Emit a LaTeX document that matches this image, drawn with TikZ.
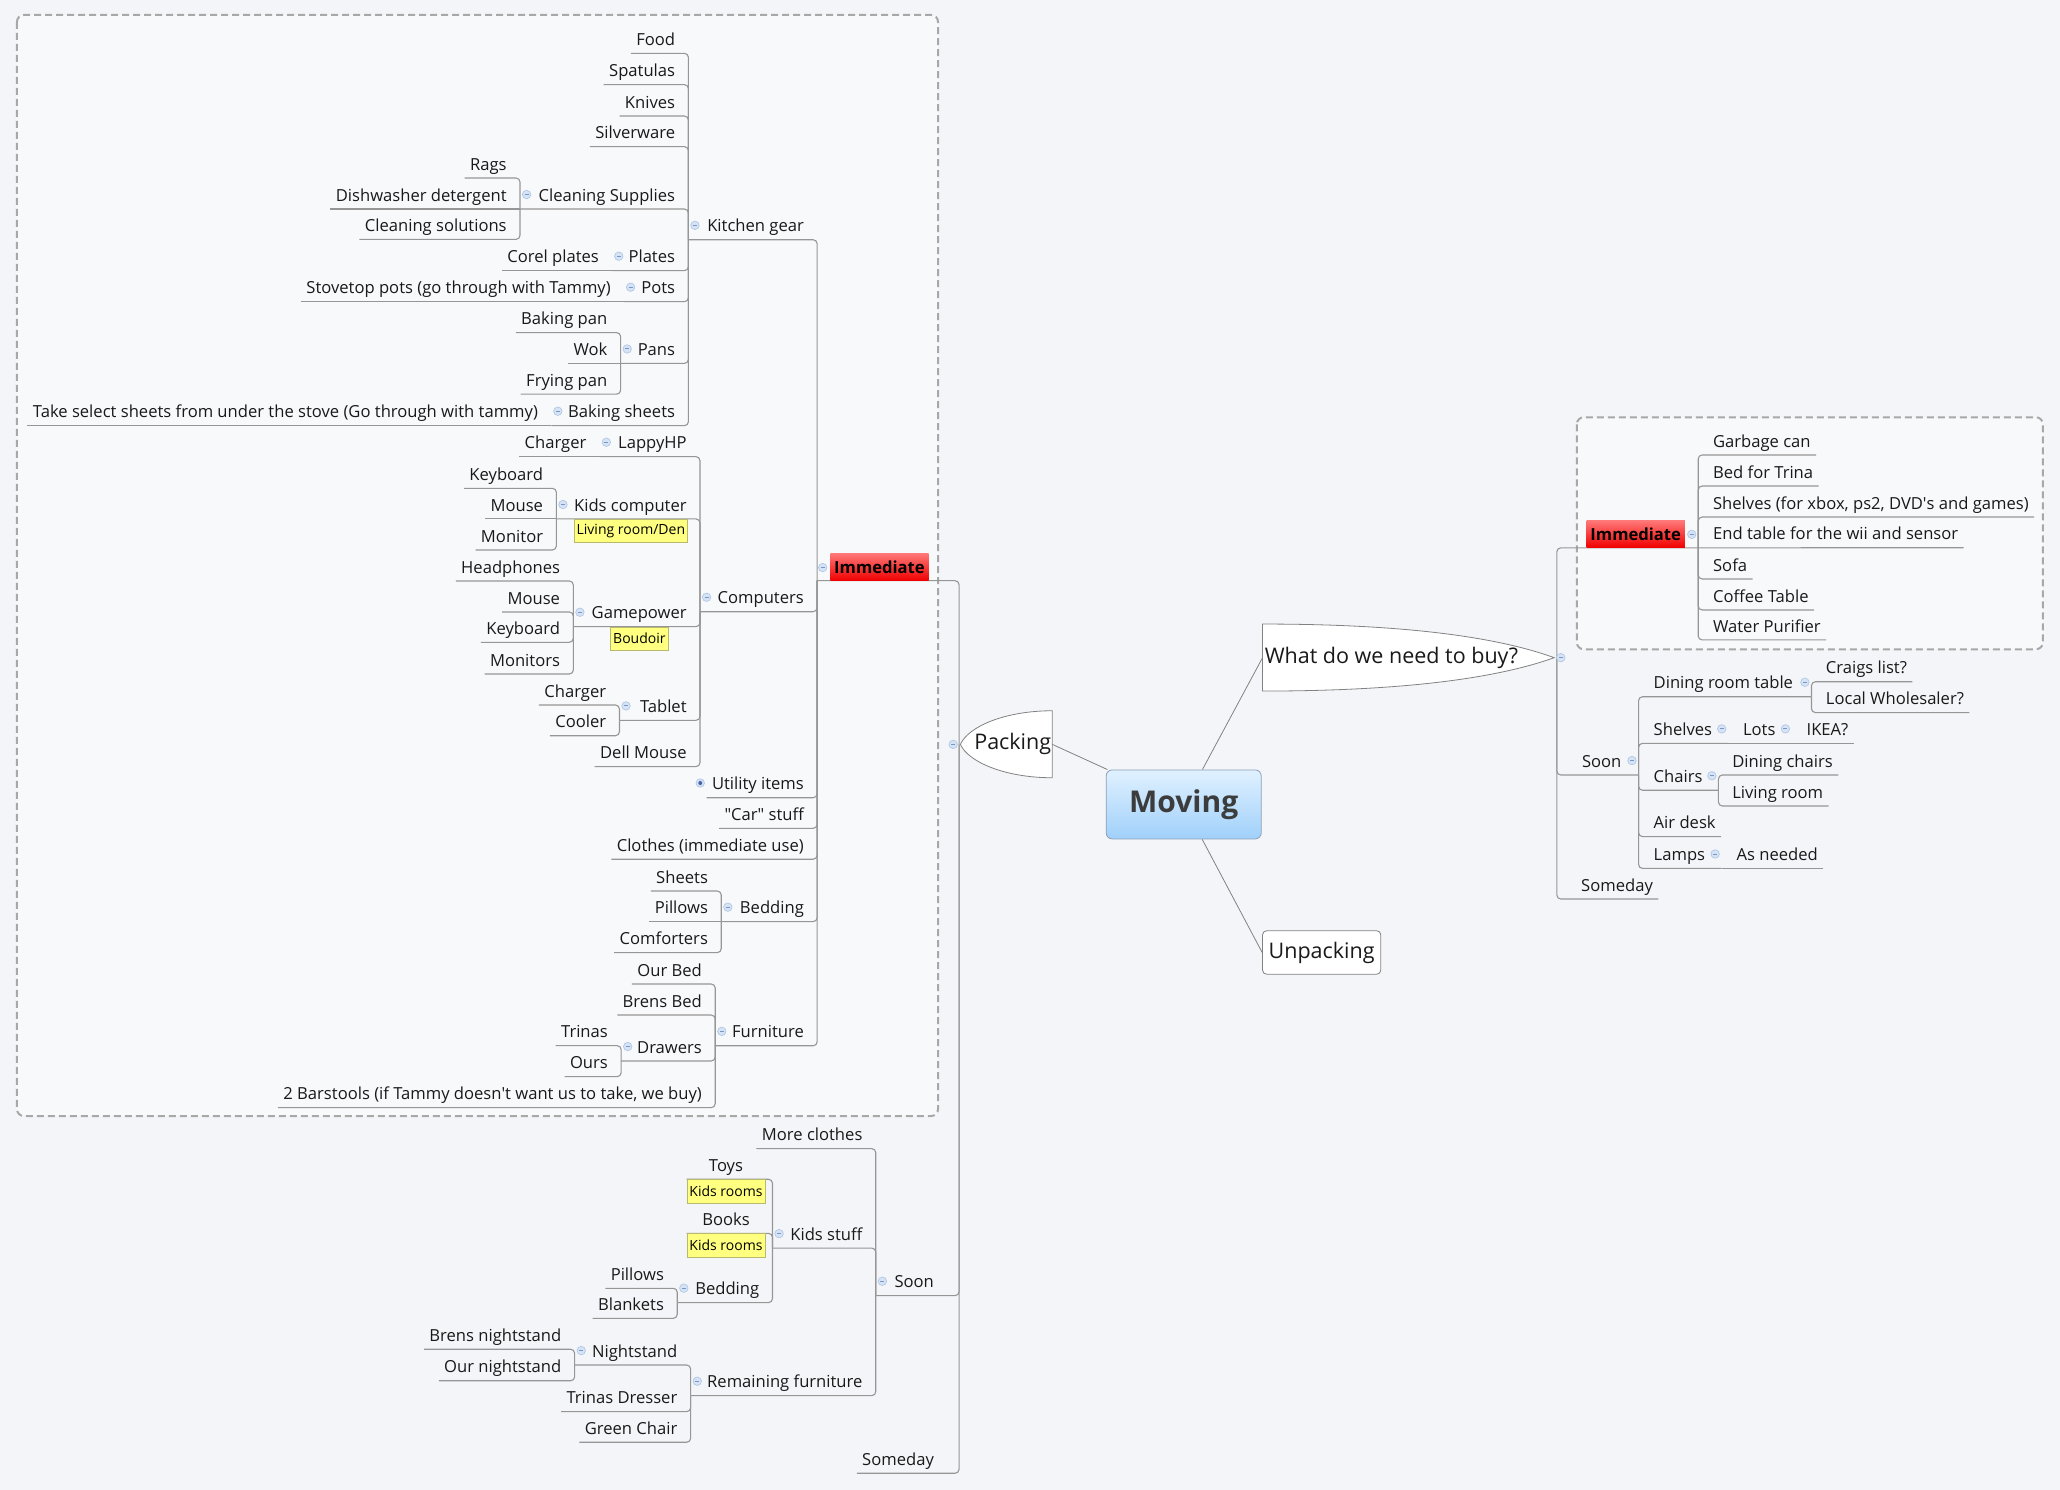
\documentclass[tikz,border=0pt]{standalone}
\usepackage{fontspec}
\setmainfont{Open Sans}
\usetikzlibrary{calc}
\definecolor{bgC}{RGB}{243,245,248}
\definecolor{boxC}{RGB}{248,249,251}
\definecolor{dashC}{RGB}{168,168,168}
\definecolor{lineC}{RGB}{150,150,150}
\definecolor{line2C}{RGB}{130,130,130}
\definecolor{mkF}{RGB}{214,227,244}
\definecolor{mkD}{RGB}{172,196,228}
\definecolor{mkM}{RGB}{120,150,200}
\definecolor{mkP}{RGB}{70,100,165}
\definecolor{lblF}{RGB}{255,255,128}
\definecolor{lblD}{RGB}{185,185,110}
\definecolor{txtC}{RGB}{25,25,25}
\definecolor{movT}{RGB}{224,241,255}
\definecolor{movB}{RGB}{160,208,250}
\definecolor{movD}{RGB}{140,160,185}
\definecolor{movTxt}{RGB}{60,60,60}
\definecolor{redT}{RGB}{255,120,120}
\definecolor{redB}{RGB}{240,0,0}
\newcommand\fs{\fontsize{16.6}{20}\selectfont}
\newcommand\fl{\fontsize{14}{17}\selectfont}
\newcommand\fb{\fontsize{21.5}{26}\selectfont}
\newcommand\fm{\fontsize{30}{36}\selectfont\bfseries}
\newcommand\dq{\XeTeXglyph\XeTeXcharglyph"22\relax}
\newcommand\sq{\XeTeXglyph\XeTeXcharglyph"27\relax}
\newcommand\Lnode[4]{\node[topic,anchor=base east] (#1) at (#2,{#3-6}) {#4};
  \path (#1.base west) ++(-4,6) coordinate (#1A);}
\newcommand\Lpar[5]{\node[topic,anchor=base east] (#1) at (#2,{#3-6}) {#4};
  \coordinate (#1A) at (#5,#3); \node[mk] at ({#5+5},{#3-11}) {};}
\newcommand\Rnode[4]{\node[topic,anchor=base west] (#1) at (#2,{#3-6}) {#4};
  \path (#1.base east) ++(4,6) coordinate (#1A);}
\newcommand\Rpar[5]{\node[topic,anchor=base west] (#1) at (#2,{#3-6}) {#4};
  \coordinate (#1A) at (#5,#3); \node[mk] at ({#5-5},{#3-11}) {};}
\newcommand\link[2]{\draw[conn] (#1A) -- (#1A -| #2A) -- (#2A);}
\newcommand\linkS[2]{\draw[conn] (#1A) -- (#2A);}
\begin{document}
\begin{tikzpicture}[x=1.3138pt,y=-1.3138pt,
  topic/.style={inner sep=0pt,font=\fs,text=txtC},
  conn/.style={draw=lineC,line width=1.1pt,rounded corners=4pt},
  conn2/.style={draw=line2C,line width=0.8pt},
  mk/.style={circle,draw=mkD,fill=mkF,minimum size=8.5pt,inner sep=0pt,line width=0.6pt,
    path picture={\draw[mkM,line width=0.9pt] ([xshift=-2pt]path picture bounding box.center) -- ([xshift=2pt]path picture bounding box.center);}},
  mkplus/.style={circle,draw=mkD,fill=mkF,minimum size=8.5pt,inner sep=0pt,line width=0.6pt,
    path picture={\fill[mkP] (path picture bounding box.center) circle (2pt);}},
  lbl/.style={draw=lblD,fill=lblF,font=\fl,inner xsep=2.5pt,inner ysep=0pt,minimum height=23.4pt,line width=0.5pt},
  immbox/.style={top color=redT,bottom color=redB,draw=none,font=\fs\bfseries,inner sep=0pt,minimum width=98.3pt,minimum height=27pt},
  dashbox/.style={draw=dashC,fill=boxC,dash pattern=on 7pt off 4pt,line width=2pt,rounded corners=7pt},
  shapeC/.style={draw=line2C,fill=white,line width=0.8pt}]
\fill[bgC] (0,0) rectangle (1568,1134);
\useasboundingbox (0,0) rectangle (1568,1134);
% group boxes
\draw[dashbox] (12.9,11.4) rectangle (714,849.5);
\draw[dashbox] (1200.2,317.6) rectangle (1555,494.2);
% central topics
\filldraw[shapeC] (801,541) .. controls (765,541) and (737,553) .. (731,566.6) .. controls (737,580) and (765,592) .. (801,592) -- cycle;
\node[inner xsep=1pt,inner ysep=0pt,anchor=east,font=\fb,text=txtC] (packing) at (801,566.6) {Packing};
\coordinate (packingA) at (730,566.6);
\filldraw[shapeC] (961,475) .. controls (1070,475) and (1140,485) .. (1183,500.6) .. controls (1140,516) and (1070,526) .. (961,526) -- cycle;
\node[inner xsep=2pt,inner ysep=0pt,anchor=west,font=\fb,text=txtC] (what) at (961,500.6) {What do we need to buy?};
\coordinate (whatA) at (1185,500.6);
\node[draw=movD,top color=movT,bottom color=movB,rounded corners=6pt,minimum width=155pt,minimum height=69pt,font=\fm,text=movTxt,line width=0.8pt] (moving) at (901,612.3) {Moving};
\node[draw=line2C,fill=white,rounded corners=4pt,minimum width=118.2pt,minimum height=43.4pt,font=\fb,text=txtC,line width=0.8pt] (unpack) at (1006,725) {Unpacking};
\draw[conn2] (packing.east) -- (moving);
\draw[conn2] (what.west) -- (moving);
\draw[conn2] (unpack.west) -- (moving);
% ---------------- left tree ----------------
\coordinate (imm1A) at (622,442);
\Lpar{soon1}{711}{986.2}{Soon}{666.6}
\Lnode{someday1}{711}{1121.4}{Someday}
\Lpar{kg}{612}{182.5}{Kitchen gear}{524}
\Lpar{comp}{612}{465.6}{Computers}{532.8}
\Lnode{util}{612}{607.2}{Utility items}
\node[mkplus] at (533,596) {};
\Lnode{car}{612}{630.5}{\dq Car\dq{} stuff}
\Lnode{clothes}{612}{654}{Clothes (immediate use)}
\Lpar{bedA}{612}{701.5}{Bedding}{549}
\Lpar{furn}{612}{796}{Furniture}{544.4}
\Lnode{food}{514}{40.6}{Food}
\Lnode{spat}{514}{64.4}{Spatulas}
\Lnode{knives}{514}{88.3}{Knives}
\Lnode{silver}{514}{111.6}{Silverware}
\Lpar{cs}{514}{159.1}{Cleaning Supplies}{395.8}
\Lpar{plates}{514}{206}{Plates}{466}
\Lpar{pots}{514}{229.6}{Pots}{475}
\Lpar{pans}{514}{276.6}{Pans}{472.4}
\Lpar{bsheets}{514}{324}{Baking sheets}{419.6}
\Lnode{rags}{385.8}{135.5}{Rags}
\Lnode{dish}{385.8}{159.1}{Dishwasher detergent}
\Lnode{csol}{385.8}{182.2}{Cleaning solutions}
\Lnode{corel}{456}{206}{Corel plates}
\Lnode{stove}{465}{229.6}{Stovetop pots (go through with Tammy)}
\Lnode{bpan}{462.4}{253.2}{Baking pan}
\Lnode{wok}{462.4}{276.6}{Wok}
\Lnode{fpan}{462.4}{300}{Frying pan}
\Lnode{take}{409.6}{324}{Take select sheets from under the stove (Go through with tammy)}
\Lpar{lappy}{522.8}{347.6}{LappyHP}{456.5}
\Lnode{chargerA}{446.5}{347.6}{Charger}
\Lpar{kidsc}{522.8}{395}{Kids computer}{423.5}
\Lnode{kbA}{413.5}{371.7}{Keyboard}
\Lnode{mouseA}{413.5}{395}{Mouse}
\Lnode{monA}{413.5}{418.6}{Monitor}
\Lpar{gamep}{522.8}{477}{Gamepower}{436.4}
\Lnode{head}{426.4}{442.2}{Headphones}
\Lnode{mouseB}{426.4}{465.8}{Mouse}
\Lnode{kbB}{426.4}{488.9}{Keyboard}
\Lnode{mons}{426.4}{513}{Monitors}
\Lpar{tablet}{522.8}{548.3}{Tablet}{471.5}
\Lnode{chargerB}{461.5}{536.6}{Charger}
\Lnode{cooler}{461.5}{560}{Cooler}
\Lnode{dell}{522.8}{583.5}{Dell Mouse}
\Lnode{sheets}{539}{678.2}{Sheets}
\Lnode{pillowsA}{539}{701.5}{Pillows}
\Lnode{comf}{539}{725.1}{Comforters}
\Lnode{ourbed}{534.4}{749}{Our Bed}
\Lnode{brens}{534.4}{772.6}{Brens Bed}
\Lpar{drawers}{534.4}{807.6}{Drawers}{472.8}
\Lnode{barstools}{534.4}{843.1}{2 Barstools (if Tammy doesn\sq t want us to take, we buy)}
\Lnode{trinas}{462.8}{795.9}{Trinas}
\Lnode{ours}{462.8}{819.5}{Ours}
\Lnode{moreclothes}{656.6}{874.3}{More clothes}
\Lpar{kidsstuff}{656.6}{950}{Kids stuff}{588}
\Lpar{remf}{656.6}{1062.3}{Remaining furniture}{525.7}
\node[topic,anchor=base] (toys) at (552.6,891.6) {Toys};
\coordinate (toysA) at (522.7,897.6);
\node[topic,anchor=base] (books) at (552.6,932.8) {Books};
\coordinate (booksA) at (522.7,938.8);
\Lpar{bedB}{578}{991.5}{Bedding}{515.5}
\Lnode{pillowsB}{505.5}{980.6}{Pillows}
\Lnode{blankets}{505.5}{1003.5}{Blankets}
\Lpar{nights}{515.7}{1039}{Nightstand}{437.4}
\Lnode{trinasd}{515.7}{1074.5}{Trinas Dresser}
\Lnode{greenc}{515.7}{1097.8}{Green Chair}
\Lnode{brensn}{427.4}{1027}{Brens nightstand}
\Lnode{ourn}{427.4}{1051}{Our nightstand}
% ---------------- right tree ----------------
\coordinate (imm2A) at (1292.6,417);
\Rpar{soon2}{1204}{589.9}{Soon}{1247.2}
\Rnode{someday2}{1203.4}{684.3}{Someday}
\Rnode{garb}{1303.8}{346.3}{Garbage can}
\Rnode{bedtrina}{1303.8}{369.9}{Bed for Trina}
\Rnode{shelvesx}{1303.8}{393.5}{Shelves (for xbox, ps2, DVD\sq s and games)}
\Rnode{endt}{1303.8}{416.9}{End table for the wii and sensor}
\Rnode{sofa}{1303.8}{440.7}{Sofa}
\Rnode{coffee}{1303.8}{464.3}{Coffee Table}
\Rnode{water}{1303.8}{487.1}{Water Purifier}
\Rpar{drt}{1258.6}{530.3}{Dining room table}{1378.8}
\Rnode{craigs}{1389.7}{518.9}{Craigs list?}
\Rnode{localw}{1389.7}{542.4}{Local Wholesaler?}
\Rpar{shelvesB}{1258.6}{565.8}{Shelves}{1315.5}
\Rpar{lots}{1326.6}{565.8}{Lots}{1364}
\Rnode{ikea}{1375}{565.8}{IKEA?}
\Rpar{chairs}{1258.6}{601.5}{Chairs}{1308}
\Rnode{dchairs}{1318.4}{589.9}{Dining chairs}
\Rnode{lroom}{1318.4}{613.5}{Living room}
\Rnode{airdesk}{1258.6}{636.8}{Air desk}
\Rpar{lamps}{1258.6}{661}{Lamps}{1310.5}
\Rnode{asneeded}{1321.7}{661}{As needed}
% ---------------- connectors ----------------
\link{imm1}{packing} \link{soon1}{packing} \link{someday1}{packing}
\link{kg}{imm1} \link{comp}{imm1} \link{util}{imm1} \link{car}{imm1}
\link{clothes}{imm1} \link{bedA}{imm1} \link{furn}{imm1}
\link{food}{kg} \link{spat}{kg} \link{knives}{kg} \link{silver}{kg}
\link{cs}{kg} \link{plates}{kg} \link{pots}{kg} \link{pans}{kg} \link{bsheets}{kg}
\link{rags}{cs} \linkS{dish}{cs} \link{csol}{cs}
\linkS{corel}{plates} \linkS{stove}{pots}
\link{bpan}{pans} \linkS{wok}{pans} \link{fpan}{pans}
\linkS{take}{bsheets}
\link{lappy}{comp} \link{kidsc}{comp} \link{gamep}{comp} \link{tablet}{comp} \link{dell}{comp}
\linkS{chargerA}{lappy}
\link{kbA}{kidsc} \linkS{mouseA}{kidsc} \link{monA}{kidsc}
\link{head}{gamep} \link{mouseB}{gamep} \link{kbB}{gamep} \link{mons}{gamep}
\link{chargerB}{tablet} \link{cooler}{tablet}
\link{sheets}{bedA} \linkS{pillowsA}{bedA} \link{comf}{bedA}
\link{ourbed}{furn} \link{brens}{furn} \link{drawers}{furn} \link{barstools}{furn}
\link{trinas}{drawers} \link{ours}{drawers}
\link{moreclothes}{soon1} \link{kidsstuff}{soon1} \link{remf}{soon1}
\link{toys}{kidsstuff} \link{books}{kidsstuff} \link{bedB}{kidsstuff}
\link{pillowsB}{bedB} \link{blankets}{bedB}
\link{nights}{remf} \link{trinasd}{remf} \link{greenc}{remf}
\link{brensn}{nights} \link{ourn}{nights}
\link{imm2}{what} \link{soon2}{what} \link{someday2}{what}
\link{garb}{imm2} \link{bedtrina}{imm2} \link{shelvesx}{imm2} \linkS{endt}{imm2}
\link{sofa}{imm2} \link{coffee}{imm2} \link{water}{imm2}
\link{drt}{soon2} \link{shelvesB}{soon2} \link{chairs}{soon2} \link{airdesk}{soon2} \link{lamps}{soon2}
\link{craigs}{drt} \link{localw}{drt}
\linkS{lots}{shelvesB} \linkS{ikea}{lots}
\link{dchairs}{chairs} \link{lroom}{chairs}
\linkS{asneeded}{lamps}
% ---------------- boxes on top ----------------
\node[immbox,anchor=south east] (imm1) at (707,442) {Immediate};
\node[immbox,anchor=south west] (imm2) at (1207.5,417) {Immediate};
\node[mk] at (626.2,432) {};
\node[mk] at (1287.7,406.7) {};
\node[lbl,anchor=north] (lblkc) at (480.2,395) {Living room/Den};
\node[lbl,anchor=north] (lblgp) at (486.7,477) {Boudoir};
\node[lbl,anchor=north] (lbltoys) at (552.6,897.6) {Kids rooms};
\node[lbl,anchor=north] (lblbooks) at (552.6,938.8) {Kids rooms};
\node[mk] at (725.5,566.6) {};
\node[mk] at (1188,500.6) {};
\end{tikzpicture}
\end{document}
